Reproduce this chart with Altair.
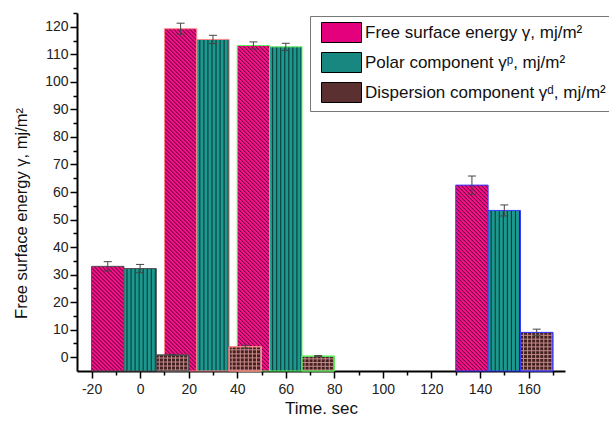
import altair as alt
import pandas as pd

# ---------------- data ----------------
times = [0, 30, 60, 150]
gamma = [33.0, 119.3, 113.2, 62.5]
gamma_err = [1.7, 2.0, 1.3, 3.3]
polar = [32.2, 115.4, 112.7, 53.3]
polar_err = [1.5, 1.5, 1.3, 2.0]
disp = [0.8, 3.8, 0.4, 9.0]
disp_err = [0.2, 0.5, 0.2, 1.2]
series_names = [
    "Free surface energy γ, mj/m²",
    "Polar component γᵖ, mj/m²",
    "Dispersion component γᵈ, mj/m²",
]
x_ticks = list(range(-20, 180, 10))
y_ticks = list(range(0, 130, 5))

# ---------------- style / layout ----------------
FONT = "Liberation Sans"
W, H = 488, 358
XDOM = [-26, 175]
YDOM = [-5, 125]
BAR_W = 40 / 3
CAP = 1.65
PAD = {"left": 77, "top": 13, "right": 44, "bottom": 52}
group_strokes = ["#505050", "#ff8a8a", "#5cf05c", "#3a3aff"]
legend_fills = ["#e4007c", "#17877f", "#5a3030"]
HATCH = 4.0      # hatch period, px
SEG = 20.0       # hatch segment height, px

PX_X = W / (XDOM[1] - XDOM[0])
PX_Y = H / (YDOM[1] - YDOM[0])
bar_px_w = BAR_W * PX_X

rows = []
for g, t in enumerate(times):
    for s, (vals, errs) in enumerate([(gamma, gamma_err), (polar, polar_err), (disp, disp_err)]):
        c = t + (s - 1) * BAR_W
        rows.append(dict(group=g, series=series_names[s], s=s, xc=c,
                         x0=c - BAR_W / 2, x1=c + BAR_W / 2, v=vals[g],
                         lo=vals[g] - errs[g], hi=vals[g] + errs[g],
                         cap0=c - CAP, cap1=c + CAP, base=YDOM[0]))
df = pd.DataFrame(rows)

# magenta bars are split into stacked pieces so the diagonal hatch stays crisp
seg_rows = []
for g, t in enumerate(times):
    c = t - BAR_W
    hpx = (gamma[g] - YDOM[0]) * PX_Y
    y0 = 0.0
    while y0 < hpx - 0.01:
        y1 = min(y0 + SEG, hpx)
        seg_rows.append(dict(group=g, x0=c - BAR_W / 2, x1=c + BAR_W / 2,
                             lo=YDOM[0] + y0 / PX_Y, hi=YDOM[0] + y1 / PX_Y,
                             full=int(y1 - y0 >= SEG - 0.01)))
        y0 += SEG
seg_df = pd.DataFrame(seg_rows)


def hat_stripes(p, period_px, c_base, c_line):
    """Soft line (2 px wide hat) at the end of every period p (in gradient units)."""
    a_frac = max(0.0, (period_px - 2.0) / period_px)
    m_frac = max(0.0, (period_px - 1.0) / period_px)
    stops = []
    i = 0
    while i * p < 1 - 1e-9:
        for off, col in ((i * p, c_base), ((i + a_frac) * p, c_base),
                         ((i + m_frac) * p, c_line), ((i + 1) * p, c_base)):
            stops.append({"offset": round(min(1.0, off), 5), "color": col})
        i += 1
    return stops


def diag_grad(w, r):
    c = (w + r) / (w * w + r * r)
    return {"gradient": "linear", "x1": 0, "y1": 1, "x2": round(c * w, 6), "y2": round(1 - c * r, 6),
            "stops": hat_stripes(HATCH / (w + r), HATCH, "#f5118a", "#4e0029")}


xaxis = alt.Axis(
    values=x_ticks, title="Time. sec", grid=False,
    labelExpr="datum.value % 20 === 0 ? '' + datum.value : ''",
    tickSize={"condition": {"test": "datum.value % 20 === 0", "value": 7}, "value": 4},
    domainColor="black", domainWidth=2, tickColor="black", tickWidth=1.5,
    labelFont=FONT, labelFontSize=14, labelColor="#222", labelPadding=4,
    labelFlush=False, labelOverlap=False,
    titleFont=FONT, titleFontSize=17, titleFontWeight="normal", titleColor="#111", titlePadding=4,
)
yaxis = alt.Axis(
    values=y_ticks, title="Free surface energy γ, mj/m²", grid=False,
    labelExpr="datum.value % 10 === 0 ? '' + datum.value : ''",
    tickSize={"condition": {"test": "datum.value % 10 === 0", "value": 7}, "value": 4},
    domainColor="black", domainWidth=2, tickColor="black", tickWidth=1.5,
    labelFont=FONT, labelFontSize=14, labelColor="#222", labelPadding=2,
    labelFlush=False, labelOverlap=False,
    titleFont=FONT, titleFontSize=16.5, titleFontWeight="normal", titleColor="#111",
    titlePadding=15, titleY=200,
)
xs = alt.Scale(domain=XDOM, nice=False, zero=False)
ys = alt.Scale(domain=YDOM, nice=False, zero=False)


def X(f):
    return alt.X(f, type="quantitative", scale=xs, axis=xaxis)


def Y(f):
    return alt.Y(f, type="quantitative", scale=ys, axis=yaxis)


base = alt.Chart(df)
seg = alt.Chart(seg_df)
stroke_enc = alt.Stroke("group:O", scale=alt.Scale(domain=list(range(len(times))), range=group_strokes),
                        legend=None)
layers = []

# magenta bars: full hatch pieces, then the top piece of every bar, then the outline
layers.append(
    seg.transform_filter("datum.full === 1")
    .mark_bar(fill=diag_grad(bar_px_w, SEG))
    .encode(x=X("x0"), x2="x1", y=Y("lo"), y2="hi")
)
for g in range(len(times)):
    hpx = (gamma[g] - YDOM[0]) * PX_Y
    r = hpx - SEG * int((hpx - 0.01) // SEG)
    if r < SEG - 0.01:
        layers.append(
            seg.transform_filter(f"datum.full === 0 && datum.group === {g}")
            .mark_bar(fill=diag_grad(bar_px_w, r))
            .encode(x=X("x0"), x2="x1", y=Y("lo"), y2="hi")
        )
layers.append(
    base.transform_filter("datum.s === 0")
    .mark_bar(fillOpacity=0, strokeWidth=1)
    .encode(x=X("x0"), x2="x1", y=Y("v"), y2="base", stroke=stroke_enc)
)

# teal bars with vertical lines
teal_period = bar_px_w / 8
teal_grad = {"gradient": "linear", "x1": 0, "y1": 0, "x2": 1, "y2": 0,
             "stops": hat_stripes(1 / 8, teal_period, "#1d988f", "#06302e")}
layers.append(
    base.transform_filter("datum.s === 1")
    .mark_bar(fill=teal_grad, strokeWidth=1)
    .encode(x=X("x0"), x2="x1", y=Y("v"), y2="base", stroke=stroke_enc)
)

# brown bars with cross hatch
pink = "#c88a8a"
brown_grad = {"gradient": "linear", "x1": 0, "y1": 0, "x2": 1, "y2": 0,
              "stops": hat_stripes(1 / 8, teal_period, "#42201f", pink)}
layers.append(
    base.transform_filter("datum.s === 2")
    .mark_bar(fill=brown_grad, strokeWidth=1)
    .encode(x=X("x0"), x2="x1", y=Y("v"), y2="base", stroke=stroke_enc)
)
for g in range(len(times)):
    h = (disp[g] - YDOM[0]) * PX_Y
    n = max(1, round(h / HATCH))
    hgrad = {"gradient": "linear", "x1": 0, "y1": 0, "x2": 0, "y2": 1,
             "stops": hat_stripes(1 / n, h / n, "rgba(200,138,138,0)", pink)}
    layers.append(
        base.transform_filter(f"datum.s === 2 && datum.group === {g}")
        .mark_bar(fill=hgrad, stroke=group_strokes[g], strokeWidth=1)
        .encode(x=X("x0"), x2="x1", y=Y("v"), y2="base")
    )

# invisible layer that carries the legend
layers.append(
    base.mark_bar(opacity=0)
    .encode(
        x=X("x0"), x2="x1", y=Y("v"), y2="base",
        fill=alt.Fill("series:N", scale=alt.Scale(domain=series_names, range=legend_fills),
                      legend=alt.Legend(
                          orient="none", legendX=233, legendY=3, title=None,
                          symbolType="M-0.5,-1H3.5V1H-0.5Z", symbolSize=400,
                          symbolStrokeColor="black", symbolStrokeWidth=1, symbolOpacity=1,
                          labelFont=FONT, labelFontSize=17, labelColor="#111", labelLimit=0,
                          labelOffset=28, rowPadding=5, padding=6,
                          strokeColor="#777", fillColor="white")),
    )
)

# error bars
err_color = "#444"
layers.append(base.mark_rule(color=err_color, strokeWidth=1)
              .encode(x=X("xc"), y=Y("lo"), y2="hi"))
layers.append(base.mark_rule(color=err_color, strokeWidth=1)
              .encode(x=X("cap0"), x2="cap1", y=Y("hi")))
layers.append(base.mark_rule(color=err_color, strokeWidth=1)
              .encode(x=X("cap0"), x2="cap1", y=Y("lo")))

chart = (
    alt.layer(*layers)
    .properties(width=W, height=H, padding=PAD, autosize=alt.AutoSizeParams(type="none"),
                background="white")
    .configure_view(stroke=None)
)

chart.save("out.html", embed_options={"renderer": "svg", "actions": False})
